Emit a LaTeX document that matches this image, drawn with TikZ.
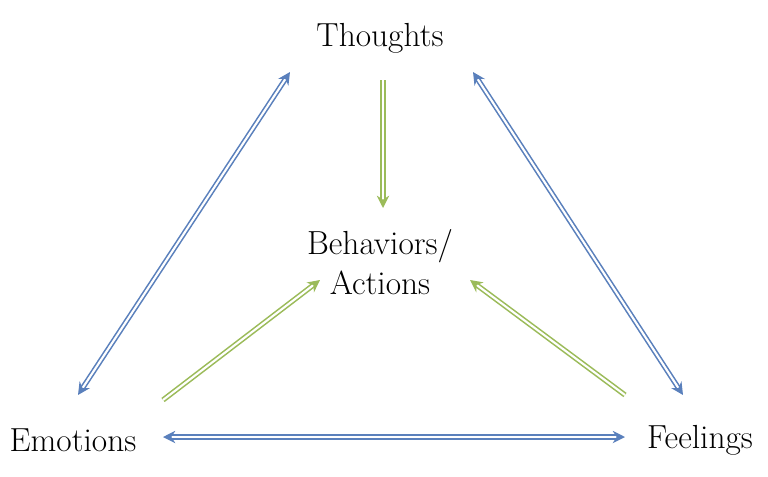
\documentclass[tikz,border=0pt]{standalone}
\usepackage{tikz}
\usetikzlibrary{arrows.meta}
\definecolor{arrowblue}{HTML}{5A80BC}
\definecolor{arrowgreen}{HTML}{9BBB59}
\tikzstyle{label-node}=[font=\fontsize{19}{23}\selectfont,align=center]
\tikzstyle{blue-line}=[draw=arrowblue,double=white,double distance=1.2pt,line width=0.9pt,{Stealth[length=7pt,width=7pt]}-{Stealth[length=7pt,width=7pt]}]
\tikzstyle{green-line}=[draw=arrowgreen,double=white,double distance=1.2pt,line width=0.9pt,-{Stealth[length=7pt,width=7pt]}]

\begin{document}
\begin{tikzpicture}[x=0.02cm,y=-0.02cm]
        \useasboundingbox (0,0) rectangle (768,477);
        \begin{scope}
            \node (th)[label-node] at (380,38) {Thoughts};
            \node (ba)[label-node] at (380,262) {Behaviors/\\Actions};
            \node (em)[label-node] at (73,440) {Emotions};
            \node (fe)[label-node] at (700,440) {Feelings};
            \coordinate (th-l) at (290,72);
            \coordinate (th-r) at (473,72);
            \coordinate (th-b) at (383,80);
            \coordinate (ba-t) at (383,208);
            \coordinate (ba-l) at (320,280);
            \coordinate (ba-r) at (470,280);
            \coordinate (em-t) at (78,395);
            \coordinate (em-r) at (163,437);
            \coordinate (em-g) at (163,400);
            \coordinate (fe-t) at (683,395);
            \coordinate (fe-l) at (625,437);
            \coordinate (fe-g) at (625,395);
        \end{scope}

        \begin{scope}
            \path [blue-line] (th-l) -- (em-t);
            \path [blue-line] (th-r) -- (fe-t);
            \path [blue-line] (em-r) -- (fe-l);
            \path [green-line] (th-b) -- (ba-t);
            \path [green-line] (em-g) -- (ba-l);
            \path [green-line] (fe-g) -- (ba-r);
        \end{scope}

    \end{tikzpicture}
\end{document}
